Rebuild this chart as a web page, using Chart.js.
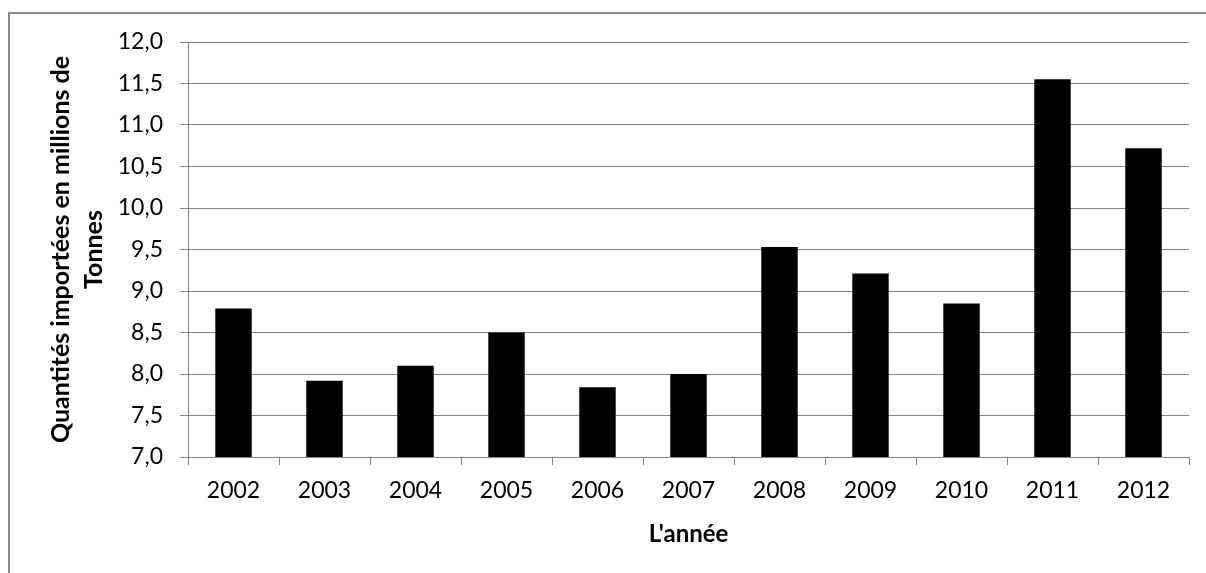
<!DOCTYPE html>
<html lang="fr">
<head>
<meta charset="utf-8">
<title>Quantités importées</title>
<script src="https://cdn.jsdelivr.net/npm/chart.js@4/dist/chart.umd.min.js"></script>
<style>
    html, body { margin: 0; padding: 0; background: #fff; overflow: hidden; }
    #wrap { position: relative; width: 1206px; height: 573px; }
    #frame {
        position: absolute; left: 8px; top: 12px;
        width: 1260px; height: 640px;
        border: 2px solid #8a8a8a;
    }
    #chart-canvas { position: absolute; left: 0; top: 0; }
</style>
</head>
<body>
<div id="wrap">
    <div id="frame"></div>
    <canvas id="chart-canvas" width="1206" height="573"></canvas>
</div>
<script>
'use strict';

const years = ['2002', '2003', '2004', '2005', '2006', '2007', '2008', '2009', '2010', '2011', '2012'];
const quantities = [8.79, 7.92, 8.10, 8.50, 7.84, 8.00, 9.53, 9.21, 8.85, 11.55, 10.72];
const yMin = 7.0;
const yMax = 12.0;
const yStep = 0.5;

const yTitle = ['Quantités importées en millions de', 'Tonnes'];
const xTitle = "L'année";

const gridColor = '#848484';
const fontFamily = 'Lato, "Open Sans", sans-serif';

const ctx = document.getElementById('chart-canvas').getContext('2d');
const importChart = new Chart(ctx, {
    type: 'bar',
    data: {
        labels: years,
        datasets: [{
            label: 'Quantités importées',
            data: quantities,
            backgroundColor: '#000000',
            borderWidth: 0,
            barPercentage: 0.4,
            categoryPercentage: 1.0
        }]
    },
    options: {
        responsive: false,
        animation: false,
        events: [],
        layout: {
            padding: { left: 0, top: 42, right: 17, bottom: 0 }
        },
        plugins: {
            legend: { display: false },
            tooltip: { enabled: false }
        },
        scales: {
            x: {
                offset: true,
                grid: {
                    offset: true,
                    drawOnChartArea: false,
                    drawTicks: true,
                    tickLength: 8,
                    color: gridColor,
                    lineWidth: 1
                },
                border: { display: true, color: gridColor, width: 1 },
                ticks: {
                    color: '#000',
                    padding: 12,
                    maxRotation: 0,
                    font: { family: fontFamily, size: 23 }
                },
                title: {
                    display: true,
                    text: xTitle,
                    color: '#000',
                    padding: { top: 0, bottom: 24 },
                    font: { family: fontFamily, size: 24, weight: 'bold', lineHeight: 1.2 }
                },
                afterFit: (scale) => { scale.height = 116; }
            },
            y: {
                min: yMin,
                max: yMax,
                grid: {
                    color: gridColor,
                    lineWidth: 1,
                    tickLength: 8
                },
                border: { display: true, color: gridColor, width: 1 },
                ticks: {
                    stepSize: yStep,
                    color: '#000',
                    padding: 17,
                    font: { family: fontFamily, size: 23 },
                    // decimal comma, one digit
                    callback: (value) => value.toFixed(1).replace('.', ',')
                },
                title: {
                    display: true,
                    text: yTitle,
                    color: '#000',
                    padding: { top: 44, bottom: 0 },
                    font: { family: fontFamily, size: 25, weight: 'bold', lineHeight: 1.336 }
                },
                afterFit: (scale) => { scale.width = 188; }
            }
        }
    }
});
</script>
</body>
</html>
